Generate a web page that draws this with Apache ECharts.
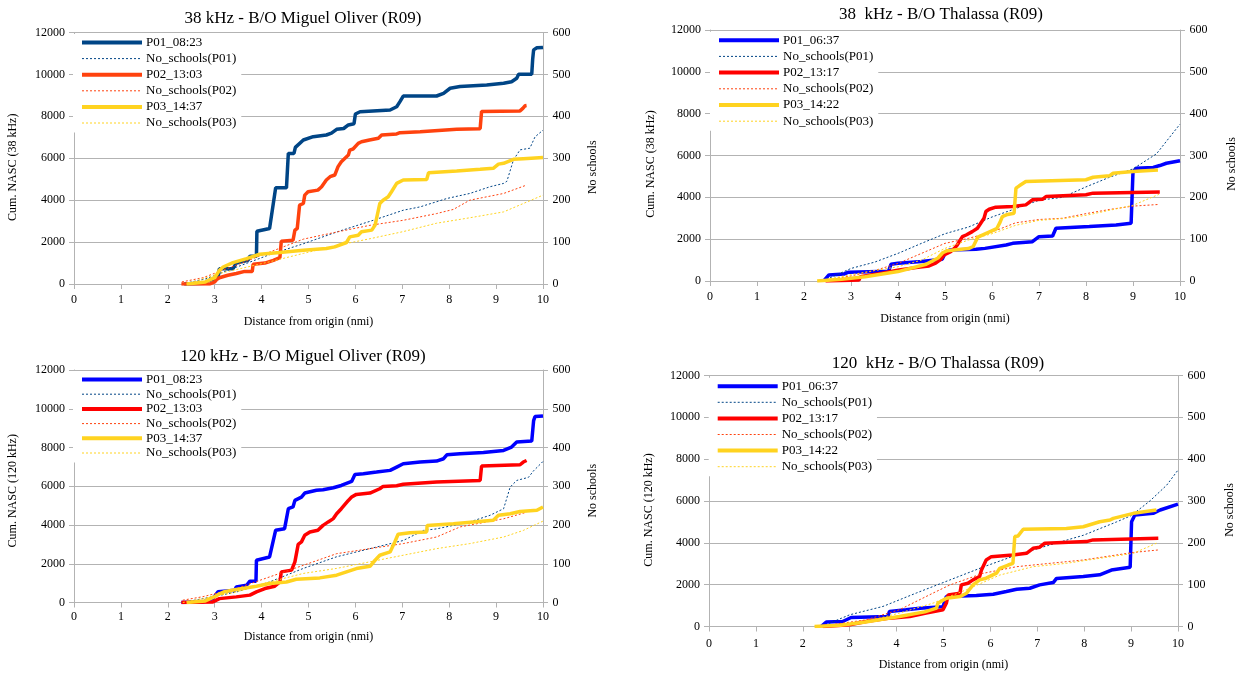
<!DOCTYPE html>
<html><head><meta charset="utf-8">
<script src="https://cdn.jsdelivr.net/npm/echarts@6/dist/echarts.min.js"></script>
<style>html,body{margin:0;padding:0;background:#fff}#c{width:1240px;height:673px}</style>
</head><body><div id="c"></div>
<script>
// ---------- DATA ----------
const X_MIN = 0, X_MAX = 10, X_STEP = 1;
const NASC_MAX = 12000, NASC_STEP = 2000;
const SCH_MAX = 600, SCH_STEP = 100;

const NAMES_MO = ['P01_08:23','No_schools(P01)','P02_13:03','No_schools(P02)','P03_14:37','No_schools(P03)'];
const NAMES_TH = ['P01_06:37','No_schools(P01)','P02_13:17','No_schools(P02)','P03_14:22','No_schools(P03)'];

const TITLES = ['38 kHz - B/O Miguel Oliver (R09)','38  kHz - B/O Thalassa (R09)','120 kHz - B/O Miguel Oliver (R09)','120  kHz - B/O Thalassa (R09)'];
const Y_NAMES = ['Cum. NASC (38 kHz)','Cum. NASC (38 kHz)','Cum. NASC (120 kHz)','Cum. NASC (120 kHz)'];
const Y2_NAME = 'No schools';
const X_NAME = 'Distance from origin (nmi)';

// 38 kHz Miguel Oliver
const mo38_nasc_p01 = [[2.35,0],[2.8,30],[2.85,150],[3.0,250],[3.07,300],[3.1,730],[3.39,730],[3.46,1000],[3.71,1130],[3.75,1320],[3.89,1320],[3.9,2520],[4.17,2650],[4.3,4590],[4.53,4590],[4.57,6230],[4.69,6230],[4.72,6520],[4.89,6870],[5.1,7030],[5.38,7110],[5.49,7200],[5.6,7380],[5.75,7420],[5.85,7590],[5.97,7650],[6.0,8110],[6.1,8220],[6.74,8300],[6.88,8460],[6.95,8700],[7.02,8970],[7.73,8970],[7.88,9100],[8.02,9340],[8.23,9420],[8.8,9500],[9.16,9580],[9.33,9650],[9.44,9820],[9.48,10010],[9.76,10010],[9.78,10730],[9.8,11170],[9.87,11270],[10,11290]];
const mo38_sch_p01 = [[2.3,0],[2.8,12],[3.46,40],[4.17,70],[4.89,96],[5.6,124],[6.38,152],[7.02,176],[7.38,184],[7.95,204],[8.44,216],[8.87,232],[9.16,240],[9.23,245],[9.37,296],[9.51,320],[9.72,324],[9.83,351],[10,367]];
const mo38_nasc_p02 = [[2.29,0],[2.9,0],[3.0,100],[3.04,210],[3.1,300],[3.28,415],[3.46,500],[3.64,600],[3.8,600],[3.82,940],[4.07,1000],[4.25,1130],[4.39,1260],[4.42,2040],[4.67,2090],[4.71,2570],[4.76,2650],[4.81,3760],[4.89,3840],[4.92,4240],[4.99,4400],[5.2,4480],[5.28,4640],[5.38,4960],[5.46,5120],[5.56,5200],[5.63,5600],[5.7,5830],[5.85,6150],[5.88,6390],[5.95,6440],[6.06,6710],[6.13,6790],[6.3,6870],[6.49,6950],[6.56,7110],[6.88,7160],[6.95,7220],[7.38,7270],[8.16,7380],[8.66,7410],[8.69,8230],[9.51,8260],[9.57,8380],[9.62,8510],[9.65,8520]];
const mo38_sch_p02 = [[2.3,5],[2.75,15],[3.46,45],[4.17,76],[4.89,107],[5.6,124],[6.31,140],[7.02,152],[7.73,168],[8.09,178],[8.44,200],[9.16,216],[9.65,236]];
const mo38_nasc_p03 = [[2.4,0],[2.8,100],[3.0,300],[3.1,650],[3.18,810],[3.39,1020],[3.68,1210],[3.96,1420],[4.39,1500],[4.89,1610],[5.38,1690],[5.56,1770],[5.81,1980],[5.88,2250],[6.06,2330],[6.13,2490],[6.35,2570],[6.42,2810],[6.52,3840],[6.59,4000],[6.7,4160],[6.77,4400],[6.88,4800],[7.02,4960],[7.52,4990],[7.56,5310],[8.16,5390],[8.66,5470],[8.94,5520],[9.05,5720],[9.16,5760],[9.37,5950],[9.58,5980],[10,6040]];
const mo38_sch_p03 = [[2.4,0],[3.1,25],[4.17,53],[4.89,73],[5.6,92],[6.31,108],[7.02,125],[7.73,145],[8.44,158],[9.16,172],[9.58,192],[10,212]];

// 38 kHz Thalassa
const th38_nasc_p01 = [[2.42,0],[2.53,290],[2.85,335],[2.95,420],[3.8,470],[3.85,800],[4.0,850],[4.5,930],[4.94,1040],[5.02,1400],[5.1,1480],[5.66,1516],[5.85,1560],[6.3,1720],[6.44,1800],[6.86,1880],[7.0,2120],[7.29,2150],[7.36,2520],[8.07,2600],[8.64,2680],[8.96,2760],[9.0,5230],[9.07,5390],[9.43,5430],[9.57,5520],[9.71,5630],[10,5750]];
const th38_sch_p01 = [[2.4,0],[3.0,30],[3.5,45],[4.0,66],[4.5,90],[5.0,113],[5.5,129],[6.0,153],[6.5,173],[7.0,193],[7.5,200],[8.0,225],[8.5,248],[9.0,268],[9.5,304],[10,375]];
const th38_nasc_p02 = [[2.46,0],[3.0,40],[3.17,50],[3.2,210],[3.66,370],[4.02,530],[4.38,640],[4.66,720],[4.8,850],[4.91,1040],[4.98,1250],[5.12,1400],[5.2,1560],[5.26,1720],[5.37,2120],[5.45,2200],[5.58,2360],[5.69,2520],[5.76,2760],[5.83,3000],[5.87,3320],[5.94,3430],[6.08,3530],[6.44,3560],[6.72,3640],[6.86,3880],[7.08,3910],[7.15,4040],[8.0,4120],[8.15,4200],[9.57,4250]];
const th38_sch_p02 = [[2.3,0],[3.0,12],[3.5,25],[4.0,42],[4.5,66],[5.0,90],[5.5,102],[6.0,117],[6.5,139],[7.0,147],[7.5,150],[8.0,161],[8.5,171],[9.0,179],[9.55,183]];
const th38_nasc_p03 = [[2.28,0],[2.8,80],[3.3,200],[4.0,450],[4.6,800],[4.85,1100],[4.95,1350],[5.05,1450],[5.5,1550],[5.6,1650],[5.7,2100],[5.9,2300],[6.1,2500],[6.17,2800],[6.22,3080],[6.33,3180],[6.47,3240],[6.51,4440],[6.58,4550],[6.72,4760],[8.0,4840],[8.15,4960],[8.5,5030],[8.57,5150],[9.0,5230],[9.53,5310]];
const th38_sch_p03 = [[2.3,0],[3.0,15],[3.5,25],[4.0,34],[4.5,50],[5.0,78],[5.5,98],[6.0,113],[6.5,133],[7.0,145],[7.5,149],[8.0,157],[8.5,169],[9.0,181],[9.55,207]];

// 120 kHz Miguel Oliver
const mo120_nasc_p01 = [[2.29,0],[2.75,35],[2.96,200],[3.07,550],[3.43,635],[3.46,800],[3.68,890],[3.75,1100],[3.88,1100],[3.89,2180],[4.17,2350],[4.3,3730],[4.49,3810],[4.57,4840],[4.67,4930],[4.71,5270],[4.85,5440],[4.92,5650],[5.17,5790],[5.31,5820],[5.53,5920],[5.7,6040],[5.92,6250],[5.99,6610],[6.17,6650],[6.45,6730],[6.74,6820],[6.88,6990],[7.02,7160],[7.38,7250],[7.73,7300],[7.88,7420],[7.95,7620],[8.23,7680],[8.73,7740],[9.16,7850],[9.33,8020],[9.44,8280],[9.76,8330],[9.8,9390],[9.83,9600],[10,9630]];
const mo120_sch_p01 = [[2.3,0],[2.75,10],[3.46,27],[4.17,53],[4.89,88],[5.6,118],[6.31,139],[7.02,160],[7.45,186],[7.73,190],[8.44,208],[8.87,225],[9.16,242],[9.3,298],[9.44,315],[9.69,323],[9.8,340],[10,364]];
const mo120_nasc_p02 = [[2.29,0],[2.96,30],[3.1,200],[3.46,290],[3.75,380],[3.89,550],[4.07,720],[4.28,840],[4.39,1060],[4.42,1580],[4.64,1670],[4.71,2100],[4.78,3000],[4.85,3130],[4.92,3470],[5.03,3640],[5.2,3730],[5.31,3980],[5.42,4160],[5.53,4330],[5.6,4580],[5.7,4840],[5.85,5270],[5.92,5440],[6.02,5580],[6.31,5650],[6.52,5870],[6.59,5990],[6.88,6030],[7.02,6100],[7.73,6220],[8.66,6300],[8.69,7040],[9.51,7110],[9.58,7250],[9.65,7330]];
const mo120_sch_p02 = [[2.32,6],[2.75,15],[3.46,36],[4.17,66],[4.89,96],[5.6,126],[6.31,139],[7.02,152],[7.73,169],[8.23,195],[8.8,208],[9.16,216],[9.65,233]];
const mo120_nasc_p03 = [[2.4,0],[2.8,80],[3.0,300],[3.1,450],[3.2,550],[3.46,670],[3.89,840],[4.17,980],[4.53,1060],[4.74,1200],[5.24,1270],[5.6,1410],[6.02,1750],[6.31,1870],[6.42,2180],[6.52,2440],[6.74,2610],[6.84,3120],[6.91,3520],[7.16,3600],[7.52,3640],[7.53,3980],[8.09,4070],[8.94,4240],[9.05,4500],[9.3,4580],[9.51,4700],[9.87,4760],[10,4930]];
const mo120_sch_p03 = [[2.32,0],[3.46,27],[4.17,53],[4.89,75],[5.6,88],[6.31,105],[7.02,122],[7.73,139],[8.44,152],[9.16,169],[9.58,186],[10,210]];

// 120 kHz Thalassa
const th120_nasc_p01 = [[2.39,0],[2.5,210],[2.85,240],[3.03,430],[3.81,480],[3.85,720],[4.2,800],[4.5,870],[4.99,950],[5.06,1430],[5.7,1480],[6.06,1540],[6.34,1670],[6.56,1780],[6.84,1830],[7.05,1990],[7.34,2100],[7.41,2300],[7.98,2390],[8.33,2470],[8.58,2700],[8.98,2830],[9.01,5010],[9.08,5330],[9.47,5410],[9.62,5570],[10,5850]];
const th120_sch_p01 = [[2.4,0],[3.0,28],[3.71,48],[4.42,80],[5.13,111],[5.84,142],[6.56,171],[7.27,195],[7.98,218],[8.69,250],[9.0,265],[9.4,300],[9.76,338],[10,374]];
const th120_nasc_p02 = [[2.43,0],[3.0,80],[3.35,240],[3.85,400],[4.28,480],[4.63,640],[4.99,800],[5.06,1110],[5.1,1510],[5.35,1590],[5.38,1990],[5.52,2070],[5.63,2230],[5.77,2390],[5.81,2700],[5.91,3180],[6.02,3340],[6.48,3420],[6.77,3500],[6.91,3740],[7.05,3790],[7.16,3980],[8.05,4060],[8.19,4140],[9.58,4220]];
const th120_sch_p02 = [[2.35,0],[3.35,16],[4.06,40],[4.78,80],[5.13,99],[5.84,127],[6.56,143],[7.27,151],[7.98,159],[8.69,171],[9.05,177],[9.58,183]];
const th120_nasc_p03 = [[2.25,0],[2.8,60],[3.3,200],[4.06,480],[4.6,700],[4.85,875],[4.88,1110],[5.06,1350],[5.35,1430],[5.49,1590],[5.63,1990],[5.77,2230],[5.91,2310],[6.13,2550],[6.2,2780],[6.38,2940],[6.48,3020],[6.52,4300],[6.59,4330],[6.7,4650],[7.62,4690],[7.98,4770],[8.33,5010],[8.55,5090],[8.62,5170],[9.05,5410],[9.54,5570]];
const th120_sch_p03 = [[2.35,0],[3.35,12],[4.06,32],[4.78,56],[5.49,88],[6.2,123],[6.91,143],[7.62,151],[8.33,163],[9.05,175],[9.54,199]];

// ---------- LAYOUT / STYLE ----------
const FONT = 'Liberation Serif';
const GREY = '#b3b3b3';
const COLORS_MO38 = ['#004586','#004586','#ff420e','#ff420e','#ffd320','#ffd320'];
const COLORS_STD = ['#0000ff','#004586','#ff0000','#ff420e','#ffd320','#ffd320'];

const panels = [
  {grid:{left:74,top:32.5,width:469,height:251.5}, title:{x:303,y:10}, legend:{left:73,top:34,gap:3.1},
   xGap:32, xMargin:10, yGap:55, yShift:9, y2Gap:44, names:NAMES_MO, colors:COLORS_MO38,
   data:[mo38_nasc_p01,mo38_sch_p01,mo38_nasc_p02,mo38_sch_p02,mo38_nasc_p03,mo38_sch_p03]},
  {grid:{left:710,top:30,width:470,height:251}, title:{x:941,y:6.5}, legend:{left:710,top:31.7,gap:3.2},
   xGap:32, xMargin:10, yGap:53, yShift:8.5, y2Gap:46, names:NAMES_TH, colors:COLORS_STD,
   data:[th38_nasc_p01,th38_sch_p01,th38_nasc_p02,th38_sch_p02,th38_nasc_p03,th38_sch_p03]},
  {grid:{left:74,top:370,width:469,height:232.5}, title:{x:303,y:348}, legend:{left:73,top:371,gap:1.7},
   xGap:28, xMargin:8, yGap:55, yShift:4.5, y2Gap:44, names:NAMES_MO, colors:COLORS_STD,
   data:[mo120_nasc_p01,mo120_sch_p01,mo120_nasc_p02,mo120_sch_p02,mo120_nasc_p03,mo120_sch_p03]},
  {grid:{left:709,top:375.5,width:469,height:251}, title:{x:938,y:355}, legend:{left:708.7,top:377.7,gap:3.1},
   xGap:32, xMargin:11, yGap:54, yShift:9, y2Gap:46, names:NAMES_TH, colors:COLORS_STD,
   data:[th120_nasc_p01,th120_sch_p01,th120_nasc_p02,th120_sch_p02,th120_nasc_p03,th120_sch_p03]}
];

const option = {animation:false, backgroundColor:'#fff', title:[], legend:[], grid:[], xAxis:[], yAxis:[], series:[]};
const tick = {show:true, length:5, lineStyle:{color:GREY, width:1}};
const line = {show:true, lineStyle:{color:GREY, width:1}};
const lbl = m => ({fontFamily:FONT, fontSize:12, color:'#000', margin:m, formatter:v => String(v)});

panels.forEach((p, i) => {
  option.grid.push(Object.assign({outerBoundsMode:'none', containLabel:false}, p.grid));
  option.title.push({text:TITLES[i], left:p.title.x, top:p.title.y, textAlign:'center', padding:0,
    textStyle:{fontFamily:FONT, fontSize:17, fontWeight:'normal', color:'#000'}});
  option.xAxis.push({gridIndex:i, type:'value', min:X_MIN, max:X_MAX, interval:X_STEP,
    axisLine:line, axisTick:tick, axisLabel:lbl(p.xMargin), splitLine:{show:false},
    name:X_NAME, nameLocation:'middle', nameGap:p.xGap,
    nameTextStyle:{fontFamily:FONT, fontSize:12, color:'#000'}});
  option.yAxis.push({gridIndex:i, type:'value', position:'left', min:0, max:NASC_MAX, interval:NASC_STEP,
    axisLine:line, axisTick:tick, axisLabel:lbl(9), splitLine:{show:true, lineStyle:{color:GREY, width:1}},
    name:Y_NAMES[i], nameLocation:'middle', nameGap:p.yGap, nameRotate:90,
    nameTextStyle:{fontFamily:FONT, fontSize:12, color:'#000', padding:[0, 2*p.yShift, 0, 0]}});
  option.yAxis.push({gridIndex:i, type:'value', position:'right', min:0, max:SCH_MAX, interval:SCH_STEP,
    axisLine:line, axisTick:tick, axisLabel:lbl(9.5), splitLine:{show:false},
    name:Y2_NAME, nameLocation:'middle', nameGap:p.y2Gap, nameRotate:90,
    nameTextStyle:{fontFamily:FONT, fontSize:12, color:'#000', padding:[0, 2*p.yShift, 0, 0]}});
  const legendData = [];
  p.names.forEach((nm, k) => {
    const solid = k % 2 === 0;
    const ls = solid ? {color:p.colors[k], width:3.5, type:'solid', cap:'butt'}
                     : {color:p.colors[k], width:1, type:[2,2]};
    option.series.push({type:'line', name:nm, xAxisIndex:i, yAxisIndex:solid ? 2*i : 2*i+1,
      data:p.data[k], symbol:'none', showSymbol:false, smooth:false, lineStyle:ls,
      itemStyle:{color:p.colors[k]}, emphasis:{disabled:true}, silent:true, z:2+k*0.01});
    legendData.push({name:nm, itemStyle:{opacity:0, color:'transparent', borderWidth:0},
      lineStyle:solid ? {color:p.colors[k], width:4, type:'solid'} : {color:p.colors[k], width:1, type:[2,2]}});
  });
  option.legend.push({data:legendData, orient:'vertical', left:p.legend.left, top:p.legend.top,
    itemWidth:60, itemHeight:14, itemGap:p.legend.gap, padding:[2,5,3,7], backgroundColor:'#fff',
    selectedMode:false, z:10, textStyle:{fontFamily:FONT, fontSize:13, color:'#000', padding:[0,0,0,-1]}});
});

const chart = echarts.init(document.getElementById('c'), null, {renderer:'canvas', width:1240, height:673});
chart.setOption(option);
</script>
</body></html>
